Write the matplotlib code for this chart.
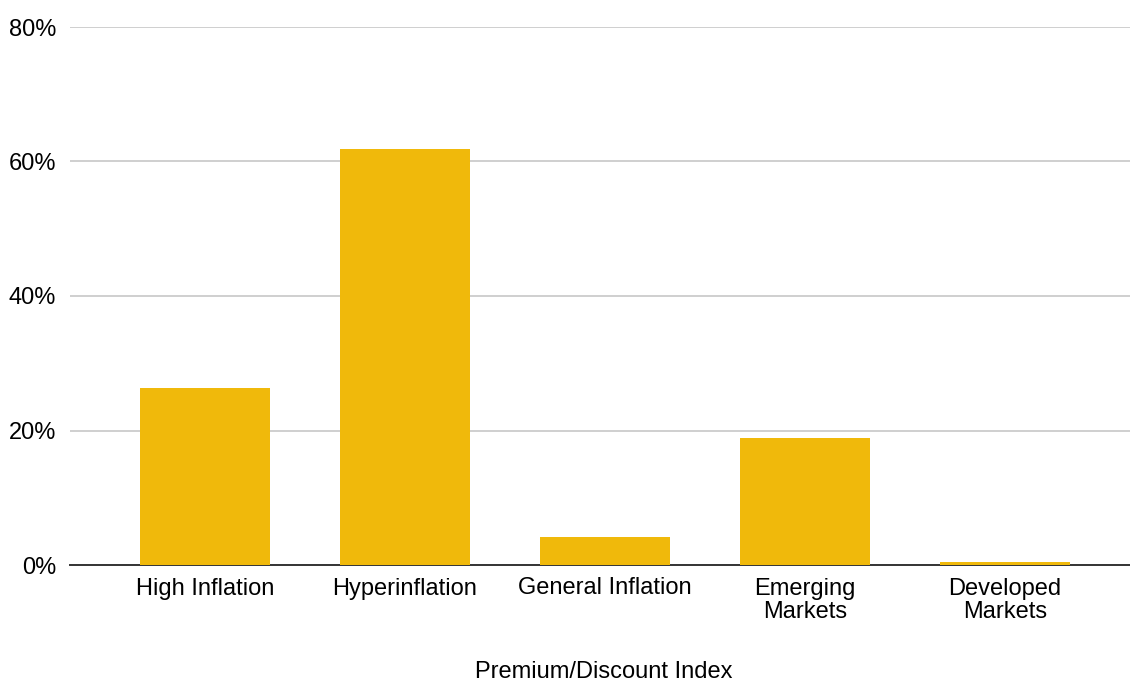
import matplotlib.pyplot as plt
import matplotlib.ticker as mticker

plt.rcParams['font.family'] = ['Liberation Sans', 'DejaVu Sans']

categories = ['High Inflation', 'Hyperinflation', 'General Inflation',
              'Emerging\nMarkets', 'Developed\nMarkets']
values = [26.3, 61.9, 4.2, 18.9, 0.45]

fig = plt.figure(figsize=(11.3, 6.82), dpi=100)
ax = fig.add_axes([70 / 1130, 1 - 565 / 682, 1060 / 1130, 538 / 682])

ax.bar(range(len(values)), values, width=0.65, color='#F0B90B', zorder=5)

ax.set_xlim(-0.675, 4.625)
ax.set_ylim(0, 80)
ax.yaxis.set_major_locator(mticker.MultipleLocator(20))
ax.yaxis.set_major_formatter(mticker.FuncFormatter(lambda v, p: '{:d}%'.format(int(v))))
ax.set_xticks(range(len(categories)))
ax.set_xticklabels(categories, linespacing=1.1)

ax.grid(axis='y', color='#cccccc', linewidth=1.3, zorder=0)
for s in ['top', 'right', 'left']:
    ax.spines[s].set_visible(False)
ax.spines['bottom'].set_color('#333333')
ax.spines['bottom'].set_linewidth(1.4)
ax.spines['bottom'].set_zorder(4)

ax.tick_params(axis='both', length=0, labelsize=17, colors='#000000')
ax.tick_params(axis='y', pad=10)
ax.tick_params(axis='x', pad=9)

fig.text(604 / 1130, 1 - 672 / 682, 'Premium/Discount Index', fontsize=17,
         ha='center', va='center')

plt.savefig('out.png', dpi=100)
